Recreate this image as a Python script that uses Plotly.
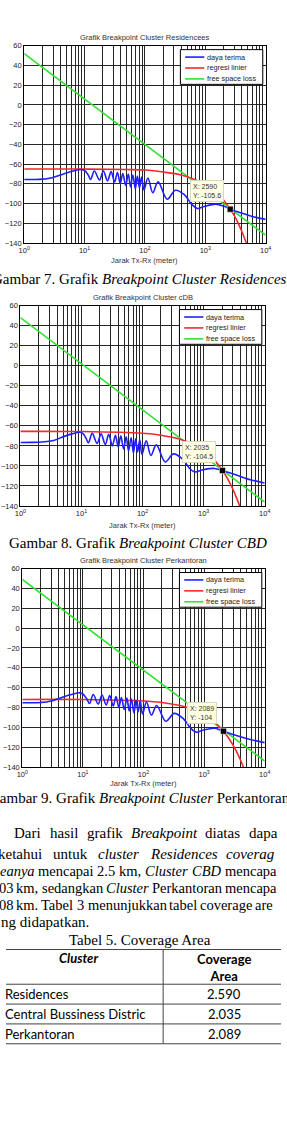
import math
import plotly.graph_objects as go

W, H = 287, 1144

# ---------------- data ----------------
# Chart 1 : Residences
res_daya_x = [1, 1.5, 2, 2.5, 3, 4, 5, 6.5, 8.5, 10, 11.5, 12.6, 14.5, 17.7, 20.5, 24, 27.5, 31.4, 35, 39,
              43, 48, 53, 57.8, 63, 69.4, 75, 81.3, 88, 96.4, 112, 135, 165, 234, 320, 450, 600, 746,
              950, 1500, 2000, 2590, 4000, 6000, 10000]
res_daya_y = [-75.5, -75.5, -75.2, -74.5, -73.5, -71, -69, -67, -65.5, -66.5, -71, -75.5, -67, -76, -67, -77,
              -67.5, -78, -68.5, -79.5, -69.5, -81.5, -70, -83, -71, -85, -72, -84, -73, -86, -74, -89, -78,
              -95.5, -86.5, -91, -101, -105, -103, -100.5, -102.5, -105.6, -109.5, -113, -116]
res_reg_x = [1, 10, 50, 100, 200, 400, 700, 1000, 1500, 2000, 2590, 3200, 4000, 4700, 5000]
res_reg_y = [-65, -65, -65.5, -66, -68, -71, -76, -80.7, -88.5, -96.4, -105.6, -115, -127.7, -138.7, -143.4]
res_fsl_x = [1, 10000]
res_fsl_y = [52, -132]
res_tip = (2590, -105.6)

# Chart 2 : CBD
cbd_daya_x = [1, 1.5, 2, 2.5, 3.5, 4.5, 5.5, 7, 9.3, 10.5, 11.8, 13, 15, 18, 21, 24.5, 28, 32, 36, 40,
              44, 49, 54, 59, 65, 71, 77, 83, 90, 98, 115, 137, 168, 236, 320, 450, 600, 720,
              950, 1500, 2035, 4000, 6000, 10000]
cbd_daya_y = [-76.6, -76.5, -76.3, -75.8, -74.7, -72, -70, -68, -66.4, -67.5, -72, -77, -67.5, -77.5, -68, -78.5,
              -68.5, -80, -69.5, -81, -70, -83, -71, -85, -72, -87, -73, -86, -74, -88.5, -75, -89.5, -79,
              -96, -88, -93, -103, -106, -104, -102.5, -104.5, -110.5, -114, -117]
cbd_reg_x = [1, 10, 100, 200, 400, 700, 1000, 1500, 2035, 2500, 3000, 3500, 3900, 4200]
cbd_reg_y = [-65.5, -65.7, -67.4, -69.3, -73.2, -78.9, -84.7, -94.2, -104.5, -113.4, -123, -132.6, -140.2, -146]
cbd_fsl_x = [1, 10000]
cbd_fsl_y = [48, -136]
cbd_tip = (2035, -104.5)

# Chart 3 : Perkantoran
kan_daya_x = [1, 1.5, 2, 2.5, 3, 4, 5, 6.5, 8.8, 10, 11.5, 12.9, 14.8, 17.9, 20.7, 24.2, 27.7, 31.6, 35.2, 39.2,
              43.2, 48.2, 53.2, 58, 63.2, 69.6, 75.2, 81.5, 88.2, 96.6, 112, 135, 165, 234, 320, 450, 600, 750,
              950, 1500, 2089, 4000, 6000, 10000]
kan_daya_y = [-75.3, -75.3, -75, -74.5, -73.5, -71, -69, -67, -65.3, -66.5, -71, -76, -67, -76.5, -67.5, -77.5,
              -68, -78.5, -69, -80, -70, -82, -70.5, -83.5, -71.5, -85.5, -72.5, -84.5, -73.5, -86.5, -74.5, -87.7, -78,
              -94, -86, -91, -101, -105, -103, -101, -104, -109.5, -112.5, -115.5]
kan_reg_x = [1, 10, 100, 200, 400, 600, 1000, 1500, 2089, 2500, 3000, 3500, 4000, 4440, 4700]
kan_reg_y = [-72, -72, -73.5, -75, -78.1, -81.2, -87.3, -95, -104, -110.3, -118, -125.6, -133.3, -140, -144]
kan_fsl_x = [1, 10000]
kan_fsl_y = [49, -134]
kan_tip = (2089, -104)

series_names = ["daya terima", "regresi linier", "free space loss"]
series_colors = ["#1f1fff", "#f22a2a", "#33e033"]

chart_titles = ["Grafik Breakpoint Cluster Residencees",
                "Grafik Breakpoint Cluster cDB",
                "Grafik Breakpoint Cluster Perkantoran"]
x_title = "Jarak Tx-Rx (meter)"
y_ticks = [-140, -120, -100, -80, -60, -40, -20, 0, 20, 40, 60]
x_major = [1, 10, 100, 1000, 10000]
x_major_text = ["10<sup>0</sup>", "10<sup>1</sup>", "10<sup>2</sup>", "10<sup>3</sup>", "10<sup>4</sup>"]
x_minor = [m * d for d in [1, 10, 100, 1000] for m in range(2, 10)]

captions = ["Gambar 7. Grafik <i>Breakpoint Cluster Residences</i>",
            "Gambar 8. Grafik <i>Breakpoint Cluster CBD</i>",
            "Gambar 9. Grafik <i>Breakpoint Cluster</i> Perkantoran"]

table_title = "Tabel 5. Coverage Area"
table_head = ["<b><i>Cluster</i></b>", "<b>Coverage<br>Area</b>"]
table_clusters = ["Residences", "Central Bussiness Distric", "Perkantoran"]
table_coverage = ["2.590", "2.035", "2.089"]

# paragraph (justified words as visible in the cropped page) : (word, left px)
para_lines = [
    [("Dari", 15), ("hasil", 52.5), ("grafik", 91.5), ("<i>Breakpoint</i>", 137.5), ("diatas", 214.5), ("dapa", 260)],
    [("ketahui", -1.3), ("untuk", 56), ("<i>cluster</i>", 103.2), ("<i>Residences</i>", 157), ("<i>coverag</i>", 236.8)],
    [("<i>eanya</i>", 0.3), ("mencapai", 40.3), ("2.5", 102), ("km,", 124.9), ("<i>Cluster</i>", 152),
     ("<i>CBD</i>", 200.4), ("mencapa", 234.6)],
    [("03", -1), ("km,", 16.9), ("sedangkan", 43.6), ("<i>Cluster</i>", 110.6), ("Perkantoran", 158.4),
     ("mencapa", 234.6)],
    [("08", -1), ("km.", 16.7), ("Tabel", 43.1), ("3", 80.7), ("menunjukkan", 91.6), ("tabel", 176.8),
     ("coverage", 209.4), ("are", 266.9)],
    [("ng didapatkan.", 1.2)],
]
para_y = [836, 857, 874, 891, 908, 925]
para_size = [15, 15, 14.5, 14.5, 14.5, 15]

# ---------------- layout helpers ----------------
def px(x):
    return x / W

def py(y):
    return 1 - y / H

SANS = "Liberation Sans"
SERIF = "Liberation Serif"
TABLEF = "Lato"

frames = [(19, 42, 271, 241), (15, 304, 270, 506), (17, 569, 270, 769)]
title_y = [34, 296, 561]
xtitle_y = [259, 526, 786]
caption_pos = [(-8, 277), (10.3, 543), (-11, 800)]

data_sets = [
    (res_daya_x, res_daya_y, res_reg_x, res_reg_y, res_fsl_x, res_fsl_y, res_tip),
    (cbd_daya_x, cbd_daya_y, cbd_reg_x, cbd_reg_y, cbd_fsl_x, cbd_fsl_y, cbd_tip),
    (kan_daya_x, kan_daya_y, kan_reg_x, kan_reg_y, kan_fsl_x, kan_fsl_y, kan_tip),
]


def left_text(text, x, y, family, size, color="black"):
    # left-anchored paper text; xshift compensates the anchor offset seen in the render
    return dict(text=text, x=px(x), y=py(y), xref="paper", yref="paper", showarrow=False,
                xanchor="left", yanchor="middle", borderpad=0, xshift=-0.5 * size,
                font=dict(family=family, size=size, color=color))


GRID = "#262626"
fig = go.Figure()
annotations = []
shapes = []
layout_axes = {}

for i, (dx, dy, rx, ry, fx, fy, tip) in enumerate(data_sets):
    n = "" if i == 0 else str(i + 1)
    xa, ya = "x" + n, "y" + n
    L, T, R, B = frames[i]
    fig.add_trace(go.Scatter(x=fx, y=fy, mode="lines", name=series_names[2], xaxis=xa, yaxis=ya,
                             line=dict(color=series_colors[2], width=1.6), showlegend=False))
    fig.add_trace(go.Scatter(x=rx, y=ry, mode="lines", name=series_names[1], xaxis=xa, yaxis=ya,
                             line=dict(color=series_colors[1], width=1.6, shape="spline"), showlegend=False))
    fig.add_trace(go.Scatter(x=dx, y=dy, mode="lines", name=series_names[0], xaxis=xa, yaxis=ya,
                             line=dict(color=series_colors[0], width=1.6, shape="spline", smoothing=1.0),
                             showlegend=False))
    fig.add_trace(go.Scatter(x=[tip[0]], y=[tip[1]], mode="markers", xaxis=xa, yaxis=ya, showlegend=False,
                             marker=dict(symbol="square", size=6, color="black",
                                         line=dict(color="white", width=0.5))))

    layout_axes["xaxis" + n] = dict(
        type="log", range=[0, 4], domain=[px(L), px(R)], anchor=ya,
        tickmode="array", tickvals=x_major, ticktext=x_major_text,
        showgrid=True, gridcolor=GRID, gridwidth=1, zeroline=False,
        minor=dict(tickmode="array", tickvals=x_minor, showgrid=True, gridcolor=GRID, gridwidth=1, ticks=""),
        showline=True, linecolor="black", linewidth=1, mirror=True, ticks="",
        tickfont=dict(family=SANS, size=7.5, color="#222"), fixedrange=True)
    layout_axes["yaxis" + n] = dict(
        range=[-140, 60], domain=[py(B), py(T)], anchor=xa,
        tickmode="array", tickvals=y_ticks,
        showgrid=True, gridcolor=GRID, gridwidth=1, zeroline=False,
        showline=True, linecolor="black", linewidth=1, mirror=True, ticks="",
        tickfont=dict(family=SANS, size=7.5, color="#222"), fixedrange=True)

    # chart title and x axis title
    annotations.append(dict(text=chart_titles[i], x=px((L + R) / 2), y=py(title_y[i]), xref="paper", yref="paper",
                            showarrow=False, xanchor="center", yanchor="middle",
                            font=dict(family=SANS, size=7.5, color="#333")))
    annotations.append(dict(text=x_title, x=px((L + R) / 2), y=py(xtitle_y[i]), xref="paper", yref="paper",
                            showarrow=False, xanchor="center", yanchor="middle",
                            font=dict(family=SANS, size=7.5, color="#333")))

    # legend box (MATLAB style)
    lx0, lx1, ly0, ly1 = R - 89, R - 3, T + 4, T + 39
    shapes.append(dict(type="rect", xref="paper", yref="paper", x0=px(lx0), x1=px(lx1), y0=py(ly1), y1=py(ly0),
                       line=dict(color="black", width=1), fillcolor="white", layer="above"))
    for j in range(3):
        ry_ = T + 11.5 + j * 11
        shapes.append(dict(type="line", xref="paper", yref="paper", x0=px(lx0 + 5), x1=px(lx0 + 25),
                           y0=py(ry_), y1=py(ry_), line=dict(color=series_colors[j], width=1.6), layer="above"))
        annotations.append(left_text(series_names[j], lx0 + 31, ry_, SANS, 7.3, "#222"))

    # data tip
    annotations.append(dict(text=f"X: {tip[0]}<br>Y: {tip[1]:g}", x=math.log10(tip[0]), y=tip[1],
                            xref=xa, yref=ya, showarrow=True, arrowcolor="rgba(0,0,0,0)", arrowwidth=0.1,
                            ax=-6, ay=-7, xanchor="right", yanchor="bottom", align="left",
                            bgcolor="#ffffe4", bordercolor="#d8d8c0", borderwidth=1, borderpad=2,
                            font=dict(family=SANS, size=7, color="#333")))

    # caption
    cx, cy = caption_pos[i]
    annotations.append(left_text(captions[i], cx, cy, SERIF, 15))

# paragraph
for words, yy, fs in zip(para_lines, para_y, para_size):
    for w, xx in words:
        annotations.append(left_text(w, xx, yy, SERIF, fs))

# table
annotations.append(dict(text=table_title, x=px(139.5), y=py(943), xref="paper", yref="paper", showarrow=False,
                        xanchor="center", yanchor="middle", font=dict(family=SERIF, size=15, color="black")))
t_lines = [953, 988, 1008, 1028, 1048]
col_div = 164
for yy in t_lines:
    shapes.append(dict(type="line", xref="paper", yref="paper", x0=0, x1=1, y0=py(yy), y1=py(yy),
                       line=dict(color="#444", width=1)))
shapes.append(dict(type="line", xref="paper", yref="paper", x0=px(col_div), x1=px(col_div), y0=py(t_lines[0]),
                   y1=py(t_lines[-1]), line=dict(color="#444", width=1)))
annotations.append(dict(text=table_head[0], x=px(75.5), y=py(962), xref="paper", yref="paper",
                        showarrow=False, xanchor="center", yanchor="middle",
                        font=dict(family=TABLEF, size=13, color="black")))
annotations.append(dict(text=table_head[1], x=px(228), y=py(971), xref="paper", yref="paper",
                        showarrow=False, xanchor="center", yanchor="middle",
                        font=dict(family=TABLEF, size=13, color="black")))
for k, (c, v) in enumerate(zip(table_clusters, table_coverage)):
    yy = (t_lines[k + 1] + t_lines[k + 2]) / 2
    annotations.append(left_text(c, 5, yy, TABLEF, 13))
    annotations.append(dict(text=v, x=px(228), y=py(yy), xref="paper", yref="paper", showarrow=False,
                            xanchor="center", yanchor="middle", font=dict(family=TABLEF, size=13, color="black")))

fig.update_layout(width=W, height=H, margin=dict(l=0, r=0, t=0, b=0),
                  paper_bgcolor="white", plot_bgcolor="white", showlegend=False,
                  annotations=annotations, shapes=shapes, **layout_axes)

fig.write_html("out.html", config={"displayModeBar": False})
